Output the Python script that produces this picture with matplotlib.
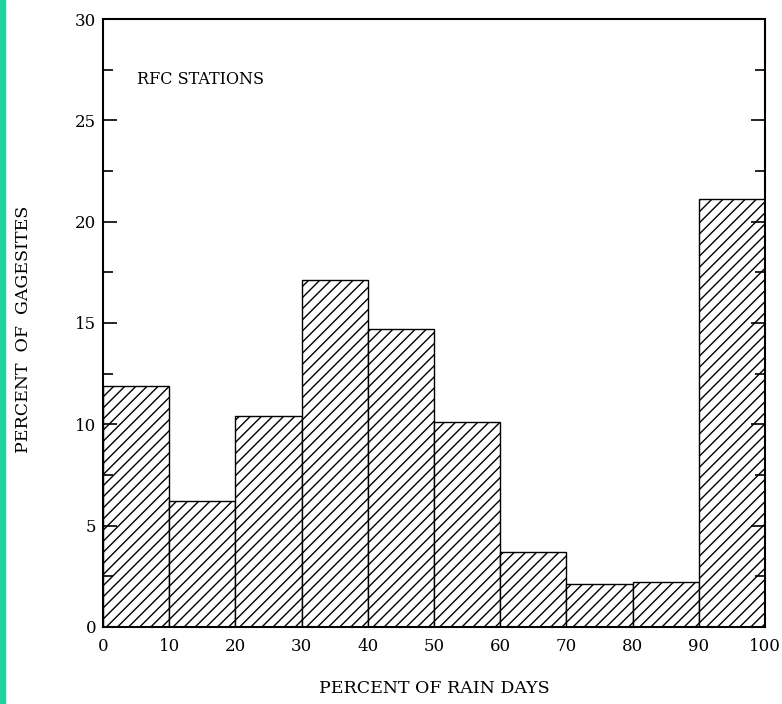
#!/usr/bin/python3

from matplotlib import pyplot as plt
from matplotlib.patches import Rectangle
import matplotlib

matplotlib.rcParams['font.family'] = 'DejaVu Serif'
matplotlib.rcParams['hatch.linewidth'] = 1.0

# histogram of rain-day percentages
bin_left = [0, 10, 20, 30, 40, 50, 60, 70, 80, 90]
pct_sites = [11.9, 6.2, 10.4, 17.1, 14.7, 10.1, 3.7, 2.1, 2.2, 21.1]
xticks = [0, 10, 20, 30, 40, 50, 60, 70, 80, 90, 100]
yticks = [0, 5, 10, 15, 20, 25, 30]

fig = plt.figure(figsize=(7.82, 7.04), dpi=100)
ax = fig.add_axes([0.1317, 0.1094, 0.8465, 0.8636])

ax.bar(bin_left, pct_sites, width=10, align='edge', color='white',
       edgecolor='black', linewidth=1.0, hatch='///')

ax.set_xlim(0, 100)
ax.set_ylim(0, 30)
ax.set_xticks(xticks)
ax.set_yticks(yticks)
ax.set_yticks([2.5, 7.5, 12.5, 17.5, 22.5, 27.5], minor=True)
ax.tick_params(axis='x', length=0, pad=8, labelsize=12)
ax.tick_params(axis='y', which='major', direction='in', length=10,
               width=1.2, right=True, labelsize=12, pad=5)
ax.tick_params(axis='y', which='minor', direction='in', length=7,
               width=1.2, right=True)
for s in ax.spines.values():
    s.set_linewidth(1.5)

ax.set_xlabel('PERCENT OF RAIN DAYS', fontsize=12.5, labelpad=18)
ax.set_ylabel('PERCENT  OF  GAGESITES', fontsize=12.5)
ax.yaxis.set_label_coords(-0.107, 0.49)
ax.text(5.1, 27.0, 'RFC STATIONS', fontsize=11.5, va='center', ha='left')

# teal strip at left edge of the page
fig.patches.append(Rectangle((0, 0), 0.006, 1, transform=fig.transFigure,
                             color='#1fd2a0', zorder=5))

plt.savefig('out.png', dpi=100)
